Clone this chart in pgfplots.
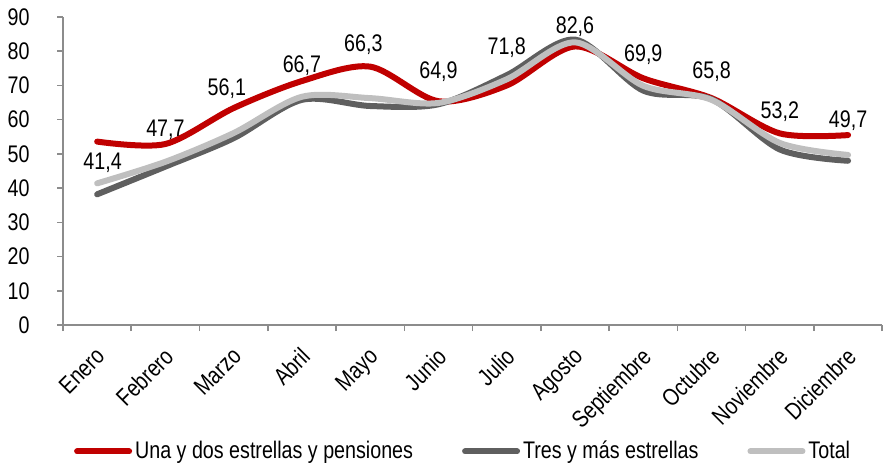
\documentclass[border=0pt]{standalone}
\usepackage{fontspec}
\setmainfont{Liberation Sans}[FakeStretch=0.82]
\usepackage{pgfplots}
\pgfplotsset{compat=1.18}
\definecolor{rojo}{HTML}{C00000}
\definecolor{oscuro}{HTML}{5F5F5F}
\definecolor{claro}{HTML}{BFBFBF}
\definecolor{eje}{HTML}{8C8C8C}

\pgfplotstableread{
x una tres total
0  53.6 38.2 41.4
1  52.9 46.3 47.7
2  63.4 54.6 56.1
3  71.3 65.8 66.7
4  75.5 64.0 66.3
5  65.4 64.5 64.9
6  70.0 73.0 71.8
7  81.4 83.4 82.6
8  72.1 68.5 69.9
9  66.3 66.0 65.8
10 56.0 51.3 53.2
11 55.5 48.0 49.7
}\datos

\pgfplotstableread{
x y etiqueta
0.08 47.3 {41,4}
1    57.0 {47,7}
1.9  69.1 {56,1}
3    75.7 {66,7}
3.9  81.8 {66,3}
5    74.0 {64,9}
6    81.1 {71,8}
7    87.1 {82,6}
8    79.0 {69,9}
9    74.1 {65,8}
10   62.4 {53,2}
11   59.7 {49,7}
}\etiquetas

\begin{document}
\begin{tikzpicture}[font=\fontsize{12}{14}\selectfont]
\begin{axis}[
  scale only axis, width=409.5pt, height=154pt,
  xmin=-0.5, xmax=11.5, ymin=0, ymax=90,
  axis x line=bottom, axis y line=left,
  axis line style={draw=eje, line width=0.8pt, -},
  tick align=outside, major tick length=3pt, minor tick length=3pt,
  tick style={draw=eje, line width=0.8pt},
  xtick={0,...,11},
  xticklabels={Enero,Febrero,Marzo,Abril,Mayo,Junio,Julio,Agosto,Septiembre,Octubre,Noviembre,Diciembre},
  major x tick style={draw=none},
  minor xtick={-0.5,0.5,1.5,2.5,3.5,4.5,5.5,6.5,7.5,8.5,9.5,10.5,11.5},
  x tick label style={rotate=45, anchor=north east, inner sep=0pt, xshift=-2pt},
  xticklabel shift=6pt,
  y tick label style={anchor=east, inner sep=0pt, xshift=-13.5pt},
  ytick={0,10,...,90},
  /pgf/number format/assume math mode=true,
  legend columns=3,
  legend style={at={(0.489,-0.41)}, anchor=center, draw=none, fill=none,
    nodes={inner sep=1.5pt},
    /tikz/every even column/.append style={column sep=23pt}},
  legend image code/.code={\draw[#1, line cap=round] (0pt,0pt) -- (26pt,0pt);},
]
\addplot[rojo, line width=3pt, smooth, line cap=round] table[x=x, y=una] {\datos};
\addplot[oscuro, line width=3pt, smooth, line cap=round] table[x=x, y=tres] {\datos};
\addplot[claro, line width=3pt, smooth, line cap=round] table[x=x, y=total] {\datos};
\addplot[draw=none, forget plot, nodes near coords, point meta=explicit symbolic,
  every node near coord/.append style={anchor=center, inner sep=0pt}]
  table[x=x, y=y, meta=etiqueta] {\etiquetas};
\legend{Una y dos estrellas y pensiones, Tres y más estrellas, Total}
\end{axis}
\path (current axis.north west) ++(-31.5pt,8.5pt);
\end{tikzpicture}
\end{document}
